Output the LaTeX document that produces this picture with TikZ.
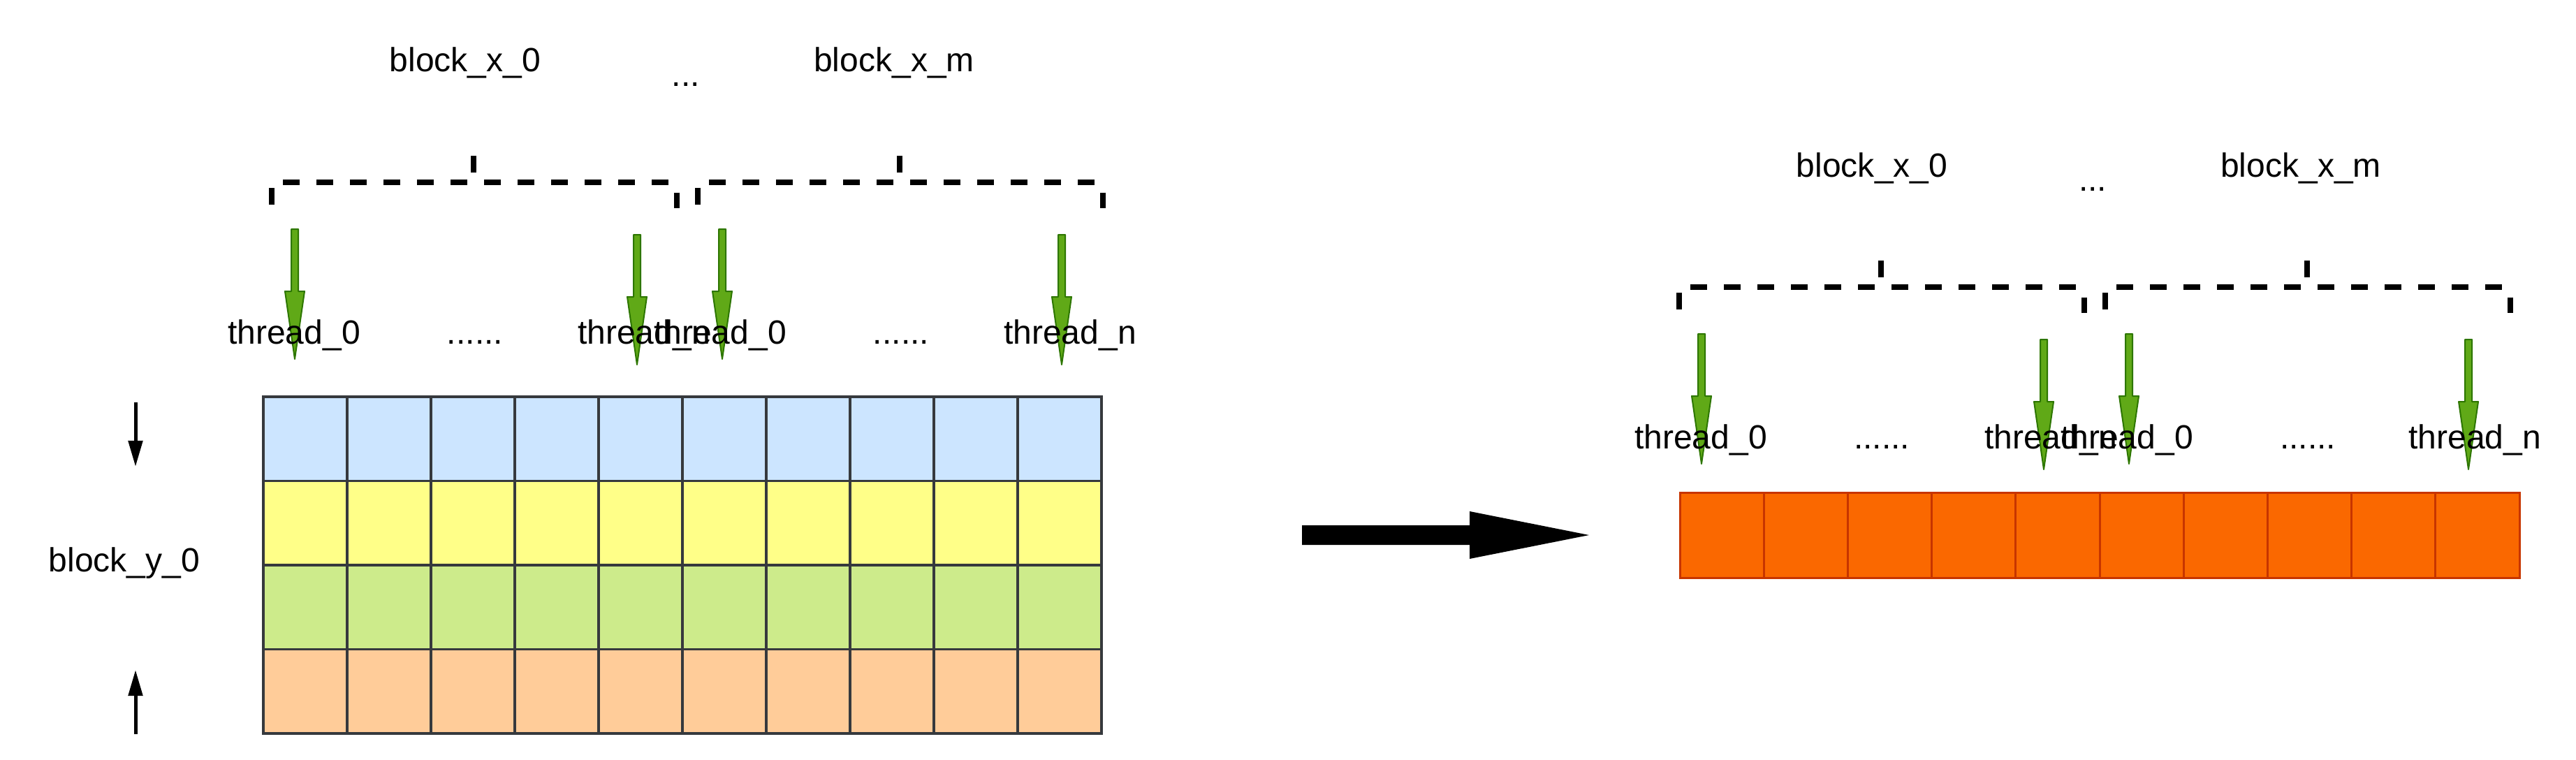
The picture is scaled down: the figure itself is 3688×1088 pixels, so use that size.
\documentclass[tikz,border=0pt]{standalone}
\usepackage{fontspec}
\setmainfont{Liberation Sans}
\usetikzlibrary{arrows.meta}
\definecolor{cellstroke}{HTML}{36393D}
\definecolor{cblue}{HTML}{CCE5FF}
\definecolor{cyellow}{HTML}{FFFF88}
\definecolor{cgreen}{HTML}{CDEB8B}
\definecolor{corange}{HTML}{FFCC99}
\definecolor{ofill}{HTML}{FA6800}
\definecolor{ostroke}{HTML}{C73500}
\definecolor{gfill}{HTML}{60A917}
\definecolor{gstroke}{HTML}{2D7600}
\tikzset{
  lbl/.style={inner sep=0pt, anchor=base, font=\fontsize{13.66pt}{16pt}\selectfont},
  cellbox/.style={draw=cellstroke, line width=0.033cm, minimum width=1.2cm, minimum height=1.205cm, inner sep=0pt, outer sep=0pt, anchor=north west},
  ocell/.style={draw=ostroke, fill=ofill, line width=0.03cm, minimum width=1.202cm, minimum height=1.22cm, inner sep=0pt, outer sep=0pt, anchor=north west},
  brk/.style={line width=0.08cm},
  brkdash/.style={line width=0.078cm, dash pattern=on 0.24cm off 0.24cm},
  garrowstyle/.style={fill=gfill, draw=gstroke, line width=0.02cm, line join=round},
  blk/.style={line width=0.05cm, -{Triangle[length=0.37cm,width=0.2cm]}},
}
\newcommand\mkbracket[2]{%
  \begin{scope}[shift={(#1,#2)}]
    \draw[brk] (0,8.5) -- (0,32);
    \draw[brkdash] (16,0) -- (572,0);
    \draw[brk] (289,-37.5) -- (289,-14);
    \draw[brk] (580,15) -- (580,37.5);
  \end{scope}}
\newcommand\mkgarrow[2]{%
  \begin{scope}[shift={(#1,#2)}]
    \filldraw[garrowstyle] (-5,0) -- (5,0) -- (5,89) -- (14,89) -- (0,186) -- (-14,89) -- (-5,89) -- cycle;
  \end{scope}}
\begin{document}
\begin{tikzpicture}[x=0.01cm,y=-0.01cm]
\fill[white] (0,0) rectangle (3688,1088);
\useasboundingbox (0,0) rectangle (3688,1088);

% ---------- left grid ----------
\foreach \c in {0,...,9}{
  \node[cellbox, fill=cblue]   (LA-\c) at (377+120*\c, 568) {};
  \node[cellbox, fill=cyellow] (LB-\c) at (377+120*\c, 688.5) {};
  \node[cellbox, fill=cgreen]  (LC-\c) at (377+120*\c, 809) {};
  \node[cellbox, fill=corange] (LD-\c) at (377+120*\c, 929.5) {};
}

% ---------- right row ----------
\foreach \c in {0,...,9}{
  \node[ocell] (RO-\c) at (2405+120.2*\c, 705) {};
}

% ---------- brackets ----------
\mkbracket{389}{260.7}
\mkbracket{999}{260.7}
\mkbracket{2404}{410.7}
\mkbracket{3014}{410.7}

% ---------- green arrows ----------
\mkgarrow{422}{328}
\mkgarrow{912}{336}
\mkgarrow{1034}{328}
\mkgarrow{1520}{336}
\mkgarrow{2436}{478}
\mkgarrow{2926}{486}
\mkgarrow{3048}{478}
\mkgarrow{3534}{486}

% ---------- labels left ----------
\node[lbl] (bx0L) at (666,103) {block\_x\_0};
\node[lbl] (dotL) at (982,124) {...};
\node[lbl] (bxmL) at (1280,103) {block\_x\_m};
\node[lbl] (t0aL) at (421,492) {thread\_0};
\node[lbl] (d1L)  at (680,492) {......};
\node[lbl] (tnaL) at (922,492) {thread\_n};
\node[lbl] (t0bL) at (1031,492) {thread\_0};
\node[lbl] (d2L)  at (1290,492) {......};
\node[lbl] (tnbL) at (1532,492) {thread\_n};
\node[lbl] (byL)  at (178,818) {block\_y\_0};

% ---------- labels right ----------
\node[lbl] (bx0R) at (2680,253) {block\_x\_0};
\node[lbl] (dotR) at (2996,274) {...};
\node[lbl] (bxmR) at (3294,253) {block\_x\_m};
\node[lbl] (t0aR) at (2435,642) {thread\_0};
\node[lbl] (d1R)  at (2694,642) {......};
\node[lbl] (tnaR) at (2936,642) {thread\_n};
\node[lbl] (t0bR) at (3045,642) {thread\_0};
\node[lbl] (d2R)  at (3304,642) {......};
\node[lbl] (tnbR) at (3543,642) {thread\_n};

% ---------- black arrows ----------
\coordinate (dnA) at (194,576);
\coordinate (dnB) at (194,668);
\draw[blk] (dnA) -- (dnB);
\coordinate (upA) at (194,1051);
\coordinate (upB) at (194,959);
\draw[blk] (upA) -- (upB);

% ---------- big arrow ----------
\fill[black] (1864,752) -- (2104,752) -- (2104,732) -- (2275,766) -- (2104,800) -- (2104,780) -- (1864,780) -- cycle;
\end{tikzpicture}
\end{document}
